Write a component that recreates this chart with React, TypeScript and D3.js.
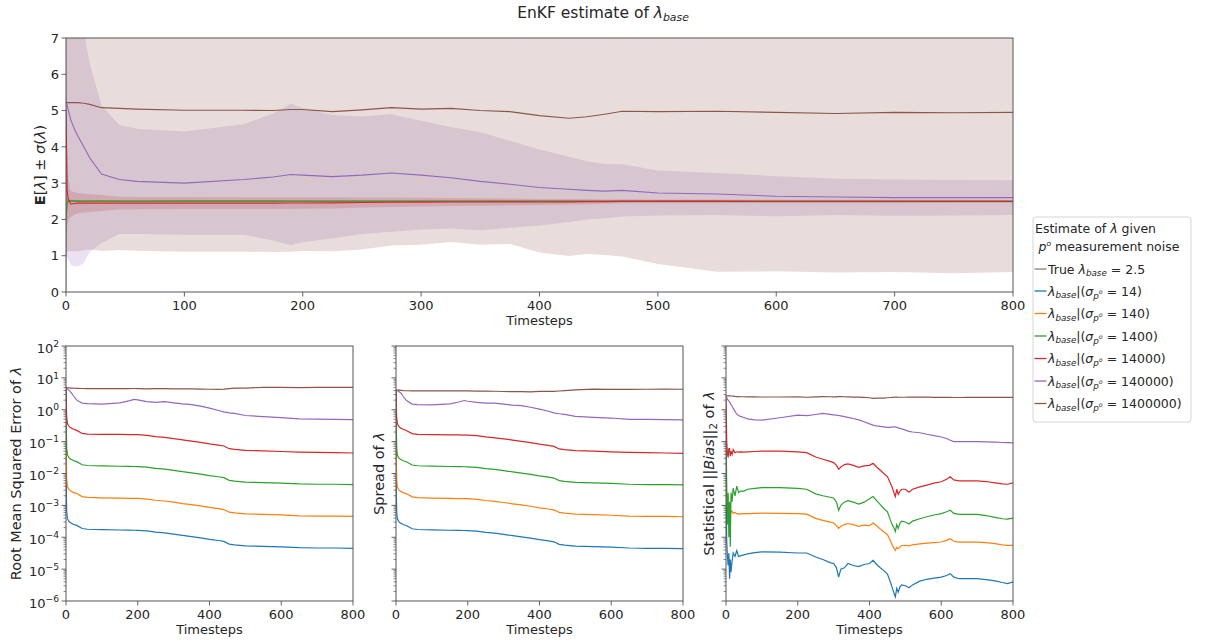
import React from 'react';
import * as d3 from 'd3';

// ---------- data ----------
const STEPS = [0, 1, 2, 4, 7, 10, 15, 20, 30, 45, 60, 100, 150, 175, 190, 200, 225, 250, 275, 300, 325, 350, 375, 400, 425, 440, 455, 470, 500, 550, 600, 650, 700, 750, 800];

const BIAS_STEPS = [0, 2, 4, 6, 8, 10, 12, 14, 17, 20, 25, 30, 35, 40, 50, 60, 80, 100, 150, 200, 225, 250, 270, 290, 300, 308, 314, 320, 330, 340, 355, 370, 385, 400, 410, 420, 430, 440, 450, 458, 464, 468, 472, 476, 480, 485, 490, 500, 510, 520, 540, 560, 580, 600, 615, 625, 635, 650, 675, 700, 725, 750, 770, 785, 800];

const NOISE_LEVELS = ['14', '140', '1400', '14000', '140000', '1400000'];
const TRUE_LAMBDA = 2.5;

const TOP_X_TICKS = [0, 100, 200, 300, 400, 500, 600, 700, 800];
const TOP_Y_TICKS = [0, 1, 2, 3, 4, 5, 6, 7];
const LOG_X_TICKS = [0, 200, 400, 600, 800];
const LOG_EXPONENTS = [-6, -5, -4, -3, -2, -1, 0, 1, 2];

// ensemble mean of lambda
const meanS14 = [2.4, 2.49, 2.5, 2.5, 2.5, 2.5, 2.5, 2.5, 2.5, 2.5, 2.5, 2.5, 2.5, 2.5, 2.5, 2.5, 2.5, 2.5, 2.5, 2.5, 2.5, 2.5, 2.5, 2.5, 2.5, 2.5, 2.5, 2.5, 2.5, 2.5, 2.5, 2.5, 2.5, 2.5, 2.5];
const meanS140 = [2.3, 2.49, 2.501, 2.501, 2.501, 2.501, 2.501, 2.501, 2.501, 2.501, 2.501, 2.501, 2.501, 2.501, 2.501, 2.501, 2.501, 2.5, 2.5, 2.5, 2.5, 2.5, 2.5, 2.5, 2.5, 2.5, 2.5, 2.5, 2.5, 2.5, 2.5, 2.5, 2.5, 2.5, 2.5];
const meanS1400 = [2.0, 2.45, 2.52, 2.51, 2.505, 2.504, 2.503, 2.503, 2.504, 2.503, 2.503, 2.504, 2.504, 2.504, 2.503, 2.503, 2.503, 2.502, 2.502, 2.502, 2.501, 2.501, 2.501, 2.502, 2.501, 2.501, 2.5, 2.5, 2.5, 2.5, 2.501, 2.501, 2.501, 2.5, 2.5];
const meanS14000 = [5.0, 2.8, 2.55, 2.42, 2.44, 2.45, 2.45, 2.45, 2.45, 2.45, 2.45, 2.45, 2.45, 2.45, 2.451, 2.452, 2.455, 2.467, 2.472, 2.478, 2.482, 2.482, 2.484, 2.482, 2.485, 2.49, 2.492, 2.497, 2.497, 2.497, 2.495, 2.494, 2.494, 2.495, 2.495];
const meanS140000 = [5.2, 5.15, 5.0, 4.75, 4.5, 4.3, 4.0, 3.7, 3.25, 3.1, 3.05, 3.0, 3.1, 3.17, 3.24, 3.22, 3.18, 3.22, 3.28, 3.22, 3.15, 3.05, 2.97, 2.88, 2.83, 2.8, 2.78, 2.8, 2.73, 2.7, 2.64, 2.62, 2.6, 2.6, 2.6];
const meanS1400000 = [5.22, 5.22, 5.22, 5.22, 5.22, 5.22, 5.2, 5.17, 5.08, 5.06, 5.04, 5.01, 5.01, 5.0, 5.03, 5.03, 4.97, 5.02, 5.08, 5.04, 5.06, 5.0, 4.97, 4.86, 4.79, 4.83, 4.9, 4.98, 4.97, 4.98, 4.95, 4.92, 4.95, 4.94, 4.95];

// ensemble spread of lambda
const spreadS14 = [4.2, 2e-3, 6e-4, 3.8e-4, 3.2e-4, 2.9e-4, 2.7e-4, 2.5e-4, 2.3e-4, 1.85e-4, 1.75e-4, 1.7e-4, 1.66e-4, 1.64e-4, 1.63e-4, 1.62e-4, 1.55e-4, 1.42e-4, 1.34e-4, 1.23e-4, 1.12e-4, 1.03e-4, 9.4e-5, 8.4e-5, 7.7e-5, 7.2e-5, 6e-5, 5.7e-5, 5.3e-5, 5.1e-5, 4.9e-5, 4.6e-5, 4.5e-5, 4.5e-5, 4.4e-5];
const spreadS140 = [4.2, 2e-2, 6e-3, 3.8e-3, 3.2e-3, 2.9e-3, 2.7e-3, 2.5e-3, 2.3e-3, 1.85e-3, 1.75e-3, 1.7e-3, 1.66e-3, 1.64e-3, 1.63e-3, 1.62e-3, 1.55e-3, 1.42e-3, 1.34e-3, 1.23e-3, 1.12e-3, 1.03e-3, 9.4e-4, 8.4e-4, 7.7e-4, 7.2e-4, 6e-4, 5.7e-4, 5.3e-4, 5.1e-4, 4.9e-4, 4.6e-4, 4.5e-4, 4.5e-4, 4.4e-4];
const spreadS1400 = [4.2, 0.2, 0.06, 0.038, 0.032, 0.029, 0.027, 0.025, 0.023, 0.0185, 0.0175, 0.017, 0.0166, 0.0164, 0.0163, 0.0162, 0.0155, 0.0142, 0.0134, 0.0123, 0.0112, 0.0103, 0.0094, 0.0084, 0.0077, 0.0072, 0.006, 0.0057, 0.0053, 0.0051, 0.0049, 0.0046, 0.0045, 0.0045, 0.0044];
const spreadS14000 = [4.2, 1.0, 0.55, 0.36, 0.31, 0.28, 0.26, 0.245, 0.22, 0.178, 0.17, 0.166, 0.164, 0.162, 0.161, 0.16, 0.155, 0.14, 0.132, 0.122, 0.112, 0.102, 0.093, 0.083, 0.076, 0.071, 0.059, 0.056, 0.052, 0.05, 0.048, 0.046, 0.045, 0.044, 0.043];
const spreadS140000 = [4.2, 4.2, 4.1, 4.0, 3.8, 3.6, 3.2, 2.6, 1.9, 1.5, 1.45, 1.42, 1.52, 1.75, 1.95, 1.85, 1.7, 1.62, 1.62, 1.5, 1.4, 1.35, 1.2, 1.05, 0.9, 0.8, 0.75, 0.72, 0.62, 0.58, 0.55, 0.5, 0.5, 0.49, 0.48];
const spreadS1400000 = [4.1, 4.1, 4.1, 4.1, 4.1, 4.1, 4.05, 4.0, 3.95, 3.9, 3.9, 3.9, 3.9, 3.9, 3.92, 3.9, 3.85, 3.85, 3.8, 3.74, 3.68, 3.7, 3.65, 3.77, 3.8, 3.78, 3.88, 4.0, 4.2, 4.42, 4.38, 4.38, 4.4, 4.42, 4.4];

// root mean squared error of lambda
const rmseS14 = [4.9, 2.1e-3, 6.2e-4, 3.9e-4, 3.3e-4, 3e-4, 2.75e-4, 2.55e-4, 2.35e-4, 1.88e-4, 1.78e-4, 1.73e-4, 1.69e-4, 1.67e-4, 1.66e-4, 1.65e-4, 1.58e-4, 1.45e-4, 1.37e-4, 1.26e-4, 1.14e-4, 1.05e-4, 9.6e-5, 8.6e-5, 7.9e-5, 7.4e-5, 6.1e-5, 5.8e-5, 5.4e-5, 5.2e-5, 5e-5, 4.7e-5, 4.6e-5, 4.6e-5, 4.5e-5];
const rmseS140 = [4.9, 2.1e-2, 6.2e-3, 3.9e-3, 3.3e-3, 3e-3, 2.75e-3, 2.55e-3, 2.35e-3, 1.88e-3, 1.78e-3, 1.73e-3, 1.69e-3, 1.67e-3, 1.66e-3, 1.65e-3, 1.58e-3, 1.45e-3, 1.37e-3, 1.26e-3, 1.14e-3, 1.05e-3, 9.6e-4, 8.6e-4, 7.9e-4, 7.4e-4, 6.1e-4, 5.8e-4, 5.4e-4, 5.2e-4, 5e-4, 4.7e-4, 4.6e-4, 4.6e-4, 4.5e-4];
const rmseS1400 = [4.9, 0.21, 0.062, 0.039, 0.033, 0.03, 0.0275, 0.0255, 0.0235, 0.0188, 0.0178, 0.0173, 0.0169, 0.0167, 0.0166, 0.0165, 0.0158, 0.0145, 0.0137, 0.0126, 0.0114, 0.0105, 0.0096, 0.0086, 0.0079, 0.0074, 0.0061, 0.0058, 0.0054, 0.0052, 0.005, 0.0047, 0.0046, 0.0046, 0.0045];
const rmseS14000 = [4.9, 1.05, 0.57, 0.37, 0.32, 0.29, 0.265, 0.25, 0.225, 0.181, 0.173, 0.17, 0.168, 0.166, 0.165, 0.165, 0.158, 0.144, 0.135, 0.124, 0.114, 0.104, 0.095, 0.085, 0.078, 0.073, 0.06, 0.057, 0.053, 0.051, 0.049, 0.047, 0.046, 0.045, 0.044];
const rmseS140000 = [4.9, 4.85, 4.7, 4.5, 4.2, 3.9, 3.4, 2.8, 2.0, 1.62, 1.55, 1.5, 1.65, 1.9, 2.1, 2.05, 1.8, 1.7, 1.8, 1.65, 1.52, 1.45, 1.3, 1.12, 0.95, 0.86, 0.8, 0.77, 0.66, 0.61, 0.57, 0.52, 0.51, 0.5, 0.49];
const rmseS1400000 = [5.0, 5.0, 4.95, 4.9, 4.85, 4.85, 4.8, 4.75, 4.7, 4.65, 4.63, 4.63, 4.62, 4.62, 4.64, 4.63, 4.55, 4.6, 4.62, 4.55, 4.55, 4.5, 4.45, 4.4, 4.35, 4.45, 4.6, 4.75, 4.8, 5.0, 5.0, 4.98, 5.0, 5.0, 5.0];

// statistical bias of lambda
const biasS14 = [1e-2, 8e-5, 2.4e-5, 1.3e-5, 3.2e-5, 5e-6, 2e-5, 8e-6, 1.8e-5, 3.2e-5,
  2.5e-5, 3.8e-5, 2.5e-5, 2.6e-5, 2.8e-5, 3e-5, 3.3e-5, 3.5e-5, 3.4e-5, 3.2e-5,
  3.2e-5, 2.4e-5, 2e-5, 1.6e-5, 1.5e-5, 1.1e-5, 5.6e-6, 1e-5, 1.1e-5, 1.5e-5,
  1.3e-5, 1.2e-5, 1.4e-5, 1.5e-5, 1.9e-5, 1.4e-5, 1.1e-5, 9e-6, 7e-6, 4e-6,
  2.5e-6, 1.8e-6, 1.35e-6, 2.5e-6, 1.9e-6, 2.8e-6, 3.2e-6, 3e-6, 2.6e-6, 3.2e-6,
  4.2e-6, 4.8e-6, 5.2e-6, 5.6e-6, 6.3e-6, 7.2e-6, 5.6e-6, 5e-6, 5e-6, 5e-6,
  4.7e-6, 4.3e-6, 3.8e-6, 3.5e-6, 4e-6];
const biasS140 = [0.05, 1.3e-3, 1e-3, 9e-4, 8e-4, 7e-4, 7.6e-4, 6.3e-4, 6.6e-4, 5.6e-4,
  6e-4, 5.5e-4, 5.3e-4, 5.4e-4, 5.5e-4, 5.5e-4, 5.6e-4, 5.7e-4, 5.6e-4, 5.5e-4,
  5.3e-4, 3.9e-4, 3.4e-4, 3e-4, 2.8e-4, 2.3e-4, 1.9e-4, 2.2e-4, 2.5e-4, 2.7e-4,
  2.5e-4, 2.2e-4, 2.4e-4, 2.3e-4, 2.8e-4, 2.3e-4, 1.8e-4, 1.5e-4, 1.2e-4, 8e-5,
  5.5e-5, 4.5e-5, 3.9e-5, 4.8e-5, 4.4e-5, 5e-5, 5.5e-5, 5.6e-5, 5.4e-5, 5.8e-5,
  6.2e-5, 6.5e-5, 6.8e-5, 7.1e-5, 8e-5, 9e-5, 7.5e-5, 7e-5, 7e-5, 7e-5,
  6.8e-5, 6.3e-5, 5.8e-5, 5.6e-5, 5.6e-5];
const biasS1400 = [0.5, 3.2e-3, 2.5e-4, 2.5e-3, 1e-4, 1.3e-3, 5e-5, 2.5e-3, 1.3e-3, 3.5e-3,
  2e-3, 4e-3, 2.5e-3, 2.8e-3, 2.8e-3, 3.2e-3, 3.4e-3, 3.6e-3, 3.6e-3, 3.4e-3,
  3.2e-3, 2.3e-3, 2e-3, 1.8e-3, 1.7e-3, 1.26e-3, 7e-4, 1e-3, 1.26e-3, 1.4e-3,
  1.26e-3, 1.1e-3, 1.26e-3, 1.6e-3, 1.9e-3, 1.4e-3, 1.05e-3, 8e-4, 6.3e-4, 3.5e-4,
  2.4e-4, 2e-4, 1.5e-4, 2.5e-4, 1.9e-4, 2.8e-4, 3.2e-4, 3e-4, 2.6e-4, 3.2e-4,
  3.8e-4, 4.4e-4, 5e-4, 5.5e-4, 6.3e-4, 7e-4, 5.6e-4, 5.2e-4, 5.2e-4, 5.2e-4,
  4.8e-4, 4.2e-4, 3.8e-4, 3.7e-4, 4e-4];
const biasS14000 = [2.5, 0.1, 0.043, 0.032, 0.06, 0.06, 0.035, 0.05, 0.04, 0.056,
  0.045, 0.048, 0.047, 0.048, 0.047, 0.048, 0.049, 0.05, 0.05, 0.048,
  0.045, 0.033, 0.028, 0.024, 0.022, 0.018, 0.0135, 0.016, 0.019, 0.02,
  0.018, 0.0155, 0.0174, 0.018, 0.021, 0.016, 0.0126, 0.01, 0.008, 0.005,
  0.0035, 0.0025, 0.0019, 0.0032, 0.0022, 0.0028, 0.0032, 0.0032, 0.0026, 0.0032,
  0.0038, 0.0043, 0.005, 0.0055, 0.0066, 0.0079, 0.0063, 0.0059, 0.0059, 0.0059,
  0.0056, 0.0051, 0.0047, 0.0046, 0.0051];
const biasS140000 = [2.6, 2.4, 2.1, 2.0, 1.86, 1.78, 1.6, 1.45, 1.3, 1.1,
  0.89, 0.73, 0.66, 0.62, 0.57, 0.52, 0.48, 0.47, 0.56, 0.68,
  0.65, 0.71, 0.77, 0.72, 0.69, 0.68, 0.66, 0.64, 0.61, 0.58,
  0.53, 0.48, 0.42, 0.36, 0.33, 0.31, 0.3, 0.29, 0.28, 0.28,
  0.29, 0.29, 0.29, 0.28, 0.27, 0.26, 0.25, 0.23, 0.21, 0.2,
  0.19, 0.17, 0.155, 0.14, 0.125, 0.11, 0.1, 0.1, 0.1, 0.1,
  0.098, 0.096, 0.094, 0.093, 0.092];
const biasS1400000 = [2.72, 2.72, 2.72, 2.72, 2.72, 2.72, 2.72, 2.71, 2.7, 2.68,
  2.62, 2.58, 2.57, 2.56, 2.56, 2.54, 2.52, 2.51, 2.51, 2.53,
  2.47, 2.52, 2.57, 2.56, 2.54, 2.55, 2.57, 2.57, 2.56, 2.53,
  2.5, 2.48, 2.43, 2.38, 2.26, 2.3, 2.32, 2.33, 2.38, 2.42,
  2.45, 2.47, 2.48, 2.48, 2.47, 2.47, 2.47, 2.47, 2.48, 2.5,
  2.5, 2.5, 2.46, 2.45, 2.43, 2.43, 2.42, 2.42, 2.44, 2.45,
  2.44, 2.44, 2.44, 2.45, 2.45];

// ---------- styling ----------
const COLORS = ['#1f77b4', '#ff7f0e', '#2ca02c', '#d62728', '#9467bd', '#8c564b'];
const TRUE_COLOR = '#7f7f7f';
const AXIS_COLOR = '#555555';
const TEXT_COLOR = '#262626';
const FONT = "'DejaVu Sans', sans-serif";
const FS = 13;
const YLABEL_FS = 14.5;

const MEANS = [meanS14, meanS140, meanS1400, meanS14000, meanS140000, meanS1400000];
const SPREADS = [spreadS14, spreadS140, spreadS1400, spreadS14000, spreadS140000, spreadS1400000];
const RMSES = [rmseS14, rmseS140, rmseS1400, rmseS14000, rmseS140000, rmseS1400000];
const BIASES = [biasS14, biasS140, biasS1400, biasS14000, biasS140000, biasS1400000];

const series = NOISE_LEVELS.map((noise, i) => ({
  noise,
  color: COLORS[i],
  mean: MEANS[i],
  spread: SPREADS[i],
  rmse: RMSES[i],
  bias: BIASES[i],
}));

// ---------- layout ----------
const TOP = { left: 66, right: 1013, top: 38, bottom: 292 };
const LOW = { top: 346, bottom: 601 };
const PANELS = [
  { left: 66, right: 353 },
  { left: 396, right: 683 },
  { left: 726, right: 1013 },
];

function LegendSigma({ size, noise }: { size: number; noise: string }) {
  return (
    <>
      <tspan fontStyle="italic">λ</tspan>
      <tspan fontStyle="italic" fontSize={size * 0.7} dy={size * 0.22}>base</tspan>
      <tspan dy={-size * 0.22}>{'|('}</tspan>
      <tspan fontStyle="italic">σ</tspan>
      <tspan fontStyle="italic" fontSize={size * 0.7} dy={size * 0.24}>p</tspan>
      <tspan fontStyle="italic" fontSize={size * 0.5} dy={-size * 0.36}>o</tspan>
      <tspan dy={size * 0.12}>{' = ' + noise + ')'}</tspan>
    </>
  );
}

function TopChart() {
  const x = d3.scaleLinear().domain([0, 800]).range([TOP.left, TOP.right]);
  const y = d3.scaleLinear().domain([0, 7]).range([TOP.bottom, TOP.top]);

  const band = (mean: number[], spread: number[]) =>
    d3.area<number>()
      .x((_, k) => x(STEPS[k]))
      .y0((m, k) => y(m - spread[k]))
      .y1((m, k) => y(m + spread[k]))(mean) || '';
  const line = (vals: number[]) =>
    d3.line<number>().x((_, k) => x(STEPS[k])).y((v) => y(v))(vals) || '';

  return (
    <g>
      <defs>
        <clipPath id="clip-top">
          <rect x={TOP.left} y={TOP.top} width={TOP.right - TOP.left} height={TOP.bottom - TOP.top} />
        </clipPath>
      </defs>
      <g clipPath="url(#clip-top)">
        {series.map((s) => (
          <path key={'b' + s.noise} d={band(s.mean, s.spread)} fill={s.color} fillOpacity={0.2} stroke="none" />
        ))}
        <line x1={x(0)} x2={x(800)} y1={y(TRUE_LAMBDA)} y2={y(TRUE_LAMBDA)} stroke={TRUE_COLOR} strokeWidth={1.2} />
        {series.map((s) => (
          <path key={'l' + s.noise} d={line(s.mean)} fill="none" stroke={s.color} strokeWidth={1.1} />
        ))}
      </g>
      <rect x={TOP.left} y={TOP.top} width={TOP.right - TOP.left} height={TOP.bottom - TOP.top} fill="none" stroke={AXIS_COLOR} strokeWidth={1} />
      {TOP_X_TICKS.map((t) => (
        <g key={'tx' + t}>
          <line x1={x(t)} x2={x(t)} y1={TOP.bottom} y2={TOP.bottom + 4.5} stroke={AXIS_COLOR} strokeWidth={0.9} />
          <text x={x(t)} y={TOP.bottom + 17.5} textAnchor="middle" fontSize={FS} fill={TEXT_COLOR}>{t}</text>
        </g>
      ))}
      {TOP_Y_TICKS.map((t) => (
        <g key={'ty' + t}>
          <line x1={TOP.left - 4.5} x2={TOP.left} y1={y(t)} y2={y(t)} stroke={AXIS_COLOR} strokeWidth={0.9} />
          <text x={TOP.left - 7} y={y(t) + 4.7} textAnchor="end" fontSize={FS} fill={TEXT_COLOR}>{t}</text>
        </g>
      ))}
      <text x={(TOP.left + TOP.right) / 2} y={324.5} textAnchor="middle" fontSize={FS} fill={TEXT_COLOR}>Timesteps</text>
      <text transform={`translate(45,${(TOP.top + TOP.bottom) / 2}) rotate(-90)`} textAnchor="middle" fontSize={YLABEL_FS} fill={TEXT_COLOR}>
        <tspan fontWeight="bold">E</tspan>
        <tspan>{'['}</tspan>
        <tspan fontStyle="italic">λ</tspan>
        <tspan>{'] ± '}</tspan>
        <tspan fontStyle="italic">σ</tspan>
        <tspan>{'('}</tspan>
        <tspan fontStyle="italic">λ</tspan>
        <tspan>{')'}</tspan>
      </text>
      <text x={603} y={18} textAnchor="middle" fontSize={15.5} fill={TEXT_COLOR}>
        <tspan>{'EnKF estimate of '}</tspan>
        <tspan fontStyle="italic">λ</tspan>
        <tspan fontStyle="italic" fontSize={15.5 * 0.7} dy={15.5 * 0.22}>base</tspan>
      </text>
    </g>
  );
}

type PanelProps = {
  idx: number;
  steps: number[];
  pick: (s: (typeof series)[number]) => number[];
  showTickLabels: boolean;
  ylabel: React.ReactNode;
  ylabelX: number;
};

function LogPanel({ idx, steps, pick, showTickLabels, ylabel, ylabelX }: PanelProps) {
  const p = PANELS[idx];
  const x = d3.scaleLinear().domain([0, 800]).range([p.left, p.right]);
  const y = d3.scaleLog().domain([1e-6, 1e2]).range([LOW.bottom, LOW.top]);
  const line = (vals: number[]) =>
    d3.line<number>().x((_, k) => x(steps[k])).y((v) => y(v))(vals) || '';
  const minor: number[] = [];
  LOG_EXPONENTS.slice(0, -1).forEach((e) => {
    for (let m = 2; m <= 9; m++) minor.push(m * Math.pow(10, e));
  });
  const clipId = 'clip-low-' + idx;
  return (
    <g>
      <defs>
        <clipPath id={clipId}>
          <rect x={p.left} y={LOW.top} width={p.right - p.left} height={LOW.bottom - LOW.top} />
        </clipPath>
      </defs>
      <g clipPath={`url(#${clipId})`}>
        {series.map((s) => (
          <path key={s.noise} d={line(pick(s))} fill="none" stroke={s.color} strokeWidth={1.2} />
        ))}
      </g>
      <rect x={p.left} y={LOW.top} width={p.right - p.left} height={LOW.bottom - LOW.top} fill="none" stroke={AXIS_COLOR} strokeWidth={1} />
      {LOG_X_TICKS.map((t) => (
        <g key={'x' + t}>
          <line x1={x(t)} x2={x(t)} y1={LOW.bottom} y2={LOW.bottom + 4.5} stroke={AXIS_COLOR} strokeWidth={0.9} />
          <text x={x(t)} y={LOW.bottom + 17.5} textAnchor="middle" fontSize={FS} fill={TEXT_COLOR}>{t}</text>
        </g>
      ))}
      {minor.map((v, k) => (
        <line key={'m' + k} x1={p.left - 2.5} x2={p.left} y1={y(v)} y2={y(v)} stroke={AXIS_COLOR} strokeWidth={0.7} />
      ))}
      {LOG_EXPONENTS.map((e) => (
        <g key={'y' + e}>
          <line x1={p.left - 4.5} x2={p.left} y1={y(Math.pow(10, e))} y2={y(Math.pow(10, e))} stroke={AXIS_COLOR} strokeWidth={0.9} />
          {showTickLabels && (
            <text x={p.left - 7} y={y(Math.pow(10, e)) + 6.5} textAnchor="end" fontSize={FS} fill={TEXT_COLOR}>
              <tspan>10</tspan>
              <tspan fontSize={FS * 0.7} dy={-FS * 0.45}>{e < 0 ? '\u2212' + Math.abs(e) : String(e)}</tspan>
            </text>
          )}
        </g>
      ))}
      <text x={(p.left + p.right) / 2} y={633.5} textAnchor="middle" fontSize={FS} fill={TEXT_COLOR}>Timesteps</text>
      <text transform={`translate(${ylabelX},${(LOW.top + LOW.bottom) / 2}) rotate(-90)`} textAnchor="middle" fontSize={YLABEL_FS} fill={TEXT_COLOR}>
        {ylabel}
      </text>
    </g>
  );
}

function Legend() {
  const fs = 12.5;
  const left = 1033;
  const top = 217;
  const rows = [269, 291, 313.5, 336, 358.5, 381, 403.5];
  return (
    <g fontSize={fs} fill={TEXT_COLOR}>
      <rect x={left} y={top} width={158} height={205} rx={3} fill="#ffffff" fillOpacity={0.85} stroke="#d5d5d5" strokeWidth={1} />
      <text x={left + 2} y={232.5}>
        <tspan>{'Estimate of '}</tspan>
        <tspan fontStyle="italic">λ</tspan>
        <tspan>{' given'}</tspan>
      </text>
      <text x={left + 5.5} y={250.5}>
        <tspan fontStyle="italic">p</tspan>
        <tspan fontStyle="italic" fontSize={fs * 0.6} dy={-fs * 0.4}>o</tspan>
        <tspan dy={fs * 0.4}>{' measurement noise'}</tspan>
      </text>
      <line x1={left + 1.5} x2={left + 13.5} y1={rows[0]} y2={rows[0]} stroke={TRUE_COLOR} strokeWidth={1.3} />
      <text x={left + 15} y={rows[0] + 4.5}>
        <tspan>{'True '}</tspan>
        <tspan fontStyle="italic">λ</tspan>
        <tspan fontStyle="italic" fontSize={fs * 0.7} dy={fs * 0.22}>base</tspan>
        <tspan dy={-fs * 0.22}>{' = ' + TRUE_LAMBDA}</tspan>
      </text>
      {series.map((s, i) => (
        <g key={s.noise}>
          <line x1={left + 1.5} x2={left + 13.5} y1={rows[i + 1]} y2={rows[i + 1]} stroke={s.color} strokeWidth={1.3} />
          <text x={left + 15} y={rows[i + 1] + 4.5}>
            <LegendSigma size={fs} noise={s.noise} />
          </text>
        </g>
      ))}
    </g>
  );
}

export default function App() {
  return (
    <svg
      width={1206}
      height={642}
      style={{ position: 'absolute', left: 0, top: 0, background: '#ffffff' }}
      fontFamily={FONT}
    >
      <rect x={0} y={0} width={1206} height={642} fill="#ffffff" />
      <TopChart />
      <LogPanel
        idx={0}
        steps={STEPS}
        pick={(s) => s.rmse}
        showTickLabels={true}
        ylabelX={21}
        ylabel={
          <>
            <tspan>{'Root Mean Squared Error of '}</tspan>
            <tspan fontStyle="italic">λ</tspan>
          </>
        }
      />
      <LogPanel
        idx={1}
        steps={STEPS}
        pick={(s) => s.spread}
        showTickLabels={false}
        ylabelX={384}
        ylabel={
          <>
            <tspan>{'Spread of '}</tspan>
            <tspan fontStyle="italic">λ</tspan>
          </>
        }
      />
      <LogPanel
        idx={2}
        steps={BIAS_STEPS}
        pick={(s) => s.bias}
        showTickLabels={false}
        ylabelX={714}
        ylabel={
          <>
            <tspan>{'Statistical ||'}</tspan>
            <tspan fontStyle="italic">Bias</tspan>
            <tspan>{'||'}</tspan>
            <tspan fontSize={YLABEL_FS * 0.7} dy={YLABEL_FS * 0.22}>2</tspan>
            <tspan dy={-YLABEL_FS * 0.22}>{' of '}</tspan>
            <tspan fontStyle="italic">λ</tspan>
          </>
        }
      />
      <Legend />
    </svg>
  );
}
